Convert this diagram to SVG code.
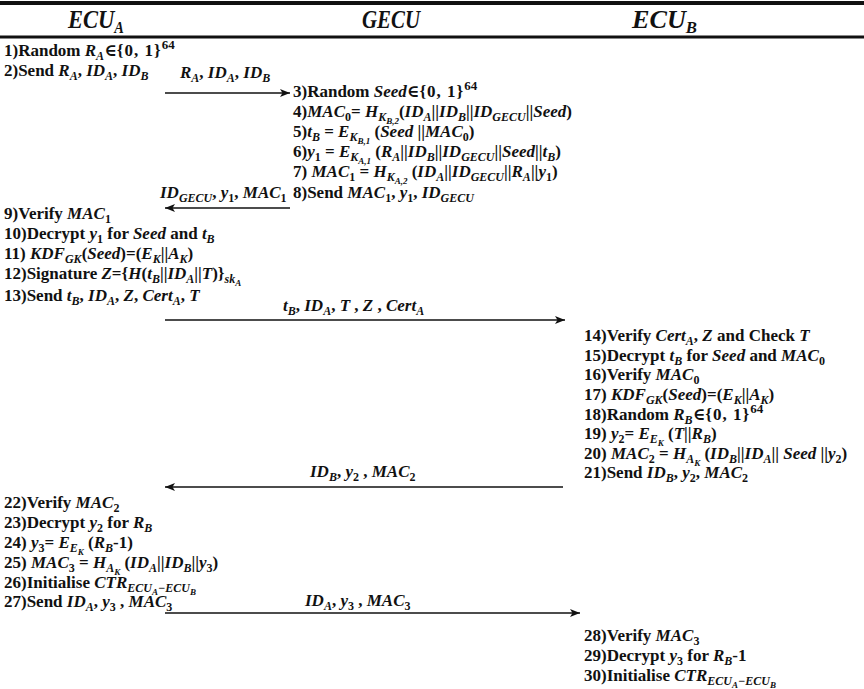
<svg xmlns="http://www.w3.org/2000/svg" width="864" height="689" viewBox="0 0 864 689">
<defs>
<style>
.t{font-family:"Liberation Serif","DejaVu Serif",serif;font-weight:bold;font-size:17px;fill:#111}
.h{font-family:"Liberation Serif","DejaVu Serif",serif;font-weight:bold;font-style:italic;font-size:25px;fill:#111}
.m{font-style:italic}
.b{font-size:12px;baseline-shift:-4px}
.bb{font-size:9px;baseline-shift:-3px}
.p{font-size:13px;baseline-shift:7px}
.w{letter-spacing:1px}
.hs{font-size:16px;baseline-shift:-5px}
.ln{stroke:#111;stroke-width:1.4;fill:none}
.rule{stroke:#111;fill:none}
</style>
<marker id="ah" viewBox="0 0 10 8" refX="10" refY="4" markerWidth="10" markerHeight="8" markerUnits="userSpaceOnUse" orient="auto">
<path d="M0,0 L10,4 L0,8 L2.5,4 Z" fill="#111"/>
</marker>
</defs>
<rect x="0" y="0" width="864" height="689" fill="#fff"/>
<line class="rule" x1="0" y1="3" x2="864" y2="3" stroke-width="4"/>
<line class="rule" x1="0" y1="37" x2="864" y2="37" stroke-width="3"/>
<g id="ecuA"><text class="h" x="68" y="28" textLength="56" lengthAdjust="spacingAndGlyphs">ECU<tspan class="hs">A</tspan></text></g>
<g id="gecu"><text class="h" x="362" y="28" textLength="58" lengthAdjust="spacingAndGlyphs">GECU</text></g>
<g id="ecuB"><text class="h" x="632" y="28" textLength="65" lengthAdjust="spacingAndGlyphs">ECU<tspan class="hs">B</tspan></text></g>

<g id="stepsA1">
<text class="t" x="4" y="56">1)Random <tspan class="m">R</tspan><tspan class="b m">A</tspan>∈<tspan class="w">{0, 1}</tspan><tspan class="p">64</tspan></text>
<text class="t" x="4" y="76">2)Send <tspan class="m">R</tspan><tspan class="b m">A</tspan>, <tspan class="m">ID</tspan><tspan class="b m">A</tspan>, <tspan class="m">ID</tspan><tspan class="b m">B</tspan></text>
</g>
<g id="stepsG">
<text class="t" x="293" y="97">3)Random <tspan class="m">Seed</tspan>∈<tspan class="w">{0, 1}</tspan><tspan class="p">64</tspan></text>
<text class="t" x="293" y="117">4)<tspan class="m">MAC</tspan><tspan class="b">0</tspan>= <tspan class="m">H</tspan><tspan class="b m">K<tspan class="bb">B,2</tspan></tspan>(<tspan class="m">ID</tspan><tspan class="b m">A</tspan>||<tspan class="m">ID</tspan><tspan class="b m">B</tspan>||<tspan class="m">ID</tspan><tspan class="b m">GECU</tspan>||<tspan class="m">Seed</tspan>)</text>
<text class="t" x="293" y="137">5)<tspan class="m">t</tspan><tspan class="b m">B</tspan> = <tspan class="m">E</tspan><tspan class="b m">K<tspan class="bb">B,1</tspan></tspan> (<tspan class="m">Seed</tspan> ||<tspan class="m">MAC</tspan><tspan class="b">0</tspan>)</text>
<text class="t" x="293" y="157">6)<tspan class="m">y</tspan><tspan class="b">1</tspan> = <tspan class="m">E</tspan><tspan class="b m">K<tspan class="bb">A,1</tspan></tspan> (<tspan class="m">R</tspan><tspan class="b m">A</tspan>||<tspan class="m">ID</tspan><tspan class="b m">B</tspan>||<tspan class="m">ID</tspan><tspan class="b m">GECU</tspan>||<tspan class="m">Seed</tspan>||<tspan class="m">t</tspan><tspan class="b m">B</tspan>)</text>
<text class="t" x="293" y="177">7) <tspan class="m">MAC</tspan><tspan class="b">1</tspan> = <tspan class="m">H</tspan><tspan class="b m">K<tspan class="bb">A,2</tspan></tspan> (<tspan class="m">ID</tspan><tspan class="b m">A</tspan>||<tspan class="m">ID</tspan><tspan class="b m">GECU</tspan>||<tspan class="m">R</tspan><tspan class="b m">A</tspan>||<tspan class="m">y</tspan><tspan class="b">1</tspan>)</text>
<text class="t" x="293" y="198">8)Send <tspan class="m">MAC</tspan><tspan class="b">1</tspan>, <tspan class="m">y</tspan><tspan class="b">1</tspan>, <tspan class="m">ID</tspan><tspan class="b m">GECU</tspan></text>
</g>
<g id="stepsA2">
<text class="t" x="4" y="219">9)Verify <tspan class="m">MAC</tspan><tspan class="b">1</tspan></text>
<text class="t" x="4" y="239">10)Decrypt <tspan class="m">y</tspan><tspan class="b">1</tspan> for <tspan class="m">Seed</tspan> and <tspan class="m">t</tspan><tspan class="b m">B</tspan></text>
<text class="t" x="4" y="259">11) <tspan class="m">KDF</tspan><tspan class="b m">GK</tspan>(<tspan class="m">Seed</tspan>)=(<tspan class="m">E</tspan><tspan class="b m">K</tspan>||<tspan class="m">A</tspan><tspan class="b m">K</tspan>)</text>
<text class="t" x="4" y="279">12)Signature <tspan class="m">Z</tspan>={<tspan class="m">H</tspan>(<tspan class="m">t</tspan><tspan class="b m">B</tspan>||<tspan class="m">ID</tspan><tspan class="b m">A</tspan>||<tspan class="m">T</tspan>)}<tspan class="b m">sk<tspan class="bb">A</tspan></tspan></text>
<text class="t" x="4" y="301">13)Send <tspan class="m">t</tspan><tspan class="b m">B</tspan>, <tspan class="m">ID</tspan><tspan class="b m">A</tspan>, <tspan class="m">Z</tspan>, <tspan class="m">Cert</tspan><tspan class="b m">A</tspan>, <tspan class="m">T</tspan></text>
</g>
<g id="stepsB1">
<text class="t" x="584" y="341">14)Verify <tspan class="m">Cert</tspan><tspan class="b m">A</tspan>, <tspan class="m">Z</tspan> and Check <tspan class="m">T</tspan></text>
<text class="t" x="584" y="361">15)Decrypt <tspan class="m">t</tspan><tspan class="b m">B</tspan> for <tspan class="m">Seed</tspan> and <tspan class="m">MAC</tspan><tspan class="b">0</tspan></text>
<text class="t" x="584" y="380">16)Verify <tspan class="m">MAC</tspan><tspan class="b">0</tspan></text>
<text class="t" x="584" y="400">17) <tspan class="m">KDF</tspan><tspan class="b m">GK</tspan>(<tspan class="m">Seed</tspan>)=(<tspan class="m">E</tspan><tspan class="b m">K</tspan>||<tspan class="m">A</tspan><tspan class="b m">K</tspan>)</text>
<text class="t" x="584" y="420">18)Random <tspan class="m">R</tspan><tspan class="b m">B</tspan>∈<tspan class="w">{0, 1}</tspan><tspan class="p">64</tspan></text>
<text class="t" x="584" y="439">19) <tspan class="m">y</tspan><tspan class="b">2</tspan>= <tspan class="m">E</tspan><tspan class="b m">E<tspan class="bb">K</tspan></tspan> (<tspan class="m">T</tspan>||<tspan class="m">R</tspan><tspan class="b m">B</tspan>)</text>
<text class="t" x="584" y="459">20) <tspan class="m">MAC</tspan><tspan class="b">2</tspan> = <tspan class="m">H</tspan><tspan class="b m">A<tspan class="bb">K</tspan></tspan> (<tspan class="m">ID</tspan><tspan class="b m">B</tspan>||<tspan class="m">ID</tspan><tspan class="b m">A</tspan>|| <tspan class="m">Seed</tspan> ||<tspan class="m">y</tspan><tspan class="b">2</tspan>)</text>
<text class="t" x="584" y="478">21)Send <tspan class="m">ID</tspan><tspan class="b m">B</tspan>, <tspan class="m">y</tspan><tspan class="b">2</tspan>, <tspan class="m">MAC</tspan><tspan class="b">2</tspan></text>
</g>
<g id="stepsA3">
<text class="t" x="4" y="508">22)Verify <tspan class="m">MAC</tspan><tspan class="b">2</tspan></text>
<text class="t" x="4" y="528">23)Decrypt <tspan class="m">y</tspan><tspan class="b">2</tspan> for <tspan class="m">R</tspan><tspan class="b m">B</tspan></text>
<text class="t" x="4" y="548">24) <tspan class="m">y</tspan><tspan class="b">3</tspan>= <tspan class="m">E</tspan><tspan class="b m">E<tspan class="bb">K</tspan></tspan> (<tspan class="m">R</tspan><tspan class="b m">B</tspan>-1)</text>
<text class="t" x="4" y="568">25) <tspan class="m">MAC</tspan><tspan class="b">3</tspan> = <tspan class="m">H</tspan><tspan class="b m">A<tspan class="bb">K</tspan></tspan> (<tspan class="m">ID</tspan><tspan class="b m">A</tspan>||<tspan class="m">ID</tspan><tspan class="b m">B</tspan>||<tspan class="m">y</tspan><tspan class="b">3</tspan>)</text>
<text class="t" x="4" y="588">26)Initialise <tspan class="m">CTR</tspan><tspan class="b m">ECU<tspan class="bb">A</tspan>−ECU<tspan class="bb">B</tspan></tspan></text>
<text class="t" x="4" y="607">27)Send <tspan class="m">ID</tspan><tspan class="b m">A</tspan>, <tspan class="m">y</tspan><tspan class="b">3</tspan> , <tspan class="m">MAC</tspan><tspan class="b">3</tspan></text>
</g>
<g id="stepsB2">
<text class="t" x="584" y="641">28)Verify <tspan class="m">MAC</tspan><tspan class="b">3</tspan></text>
<text class="t" x="584" y="661">29)Decrypt <tspan class="m">y</tspan><tspan class="b">3</tspan> for <tspan class="m">R</tspan><tspan class="b m">B</tspan>-1</text>
<text class="t" x="584" y="681">30)Initialise <tspan class="m">CTR</tspan><tspan class="b m">ECU<tspan class="bb">A</tspan>−ECU<tspan class="bb">B</tspan></tspan></text>
</g>

<g id="connectors">
<line class="ln" x1="165" y1="93" x2="290" y2="93" marker-end="url(#ah)"/>
<text class="t" x="180" y="78"><tspan class="m">R</tspan><tspan class="b m">A</tspan>, <tspan class="m">ID</tspan><tspan class="b m">A</tspan>, <tspan class="m">ID</tspan><tspan class="b m">B</tspan></text>
<line class="ln" x1="290" y1="208" x2="165" y2="208" marker-end="url(#ah)"/>
<text class="t" x="160" y="198"><tspan class="m">ID</tspan><tspan class="b m">GECU</tspan>, <tspan class="m">y</tspan><tspan class="b">1</tspan>, <tspan class="m">MAC</tspan><tspan class="b">1</tspan></text>
<line class="ln" x1="165" y1="320" x2="565" y2="320" marker-end="url(#ah)"/>
<text class="t" x="283" y="311"><tspan class="m">t</tspan><tspan class="b m">B</tspan>, <tspan class="m">ID</tspan><tspan class="b m">A</tspan>, <tspan class="m">T</tspan> , <tspan class="m">Z</tspan> , <tspan class="m">Cert</tspan><tspan class="b m">A</tspan></text>
<line class="ln" x1="563" y1="487" x2="165" y2="487" marker-end="url(#ah)"/>
<text class="t" x="310" y="477"><tspan class="m">ID</tspan><tspan class="b m">B</tspan>, <tspan class="m">y</tspan><tspan class="b">2</tspan> , <tspan class="m">MAC</tspan><tspan class="b">2</tspan></text>
<line class="ln" x1="165" y1="613" x2="580" y2="613" marker-end="url(#ah)"/>
<text class="t" x="305" y="606"><tspan class="m">ID</tspan><tspan class="b m">A</tspan>, <tspan class="m">y</tspan><tspan class="b">3</tspan> , <tspan class="m">MAC</tspan><tspan class="b">3</tspan></text>
</g>
</svg>
